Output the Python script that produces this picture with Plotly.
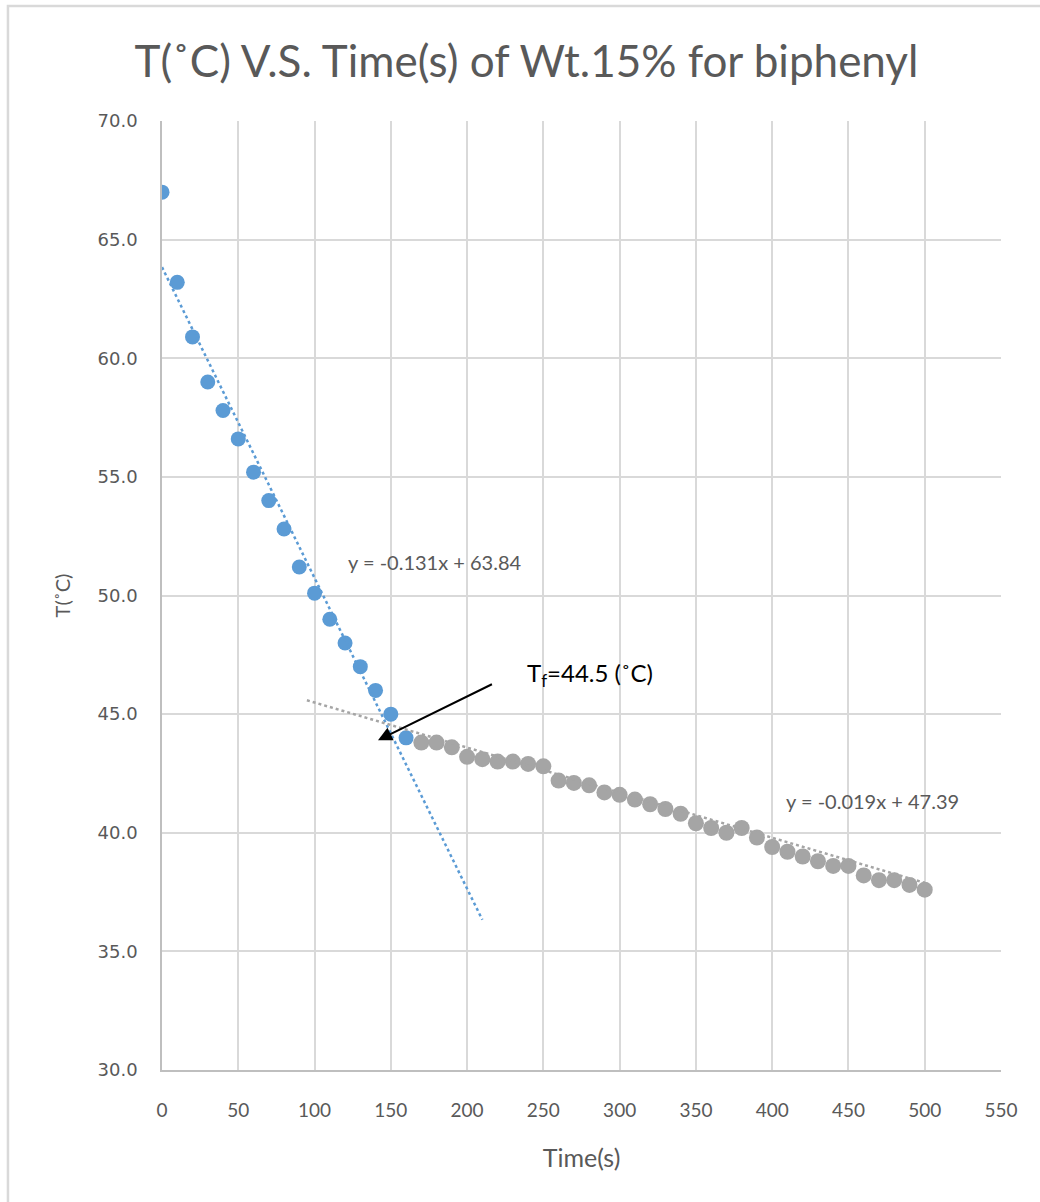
import numpy as np
import plotly.graph_objects as go

# ---- data ----
time_liquid = [0, 10, 20, 30, 40, 50, 60, 70, 80, 90, 100, 110, 120, 130, 140, 150, 160]
temp_liquid = [67.0, 63.2, 60.9, 59.0, 57.8, 56.6, 55.2, 54.0, 52.8, 51.2, 50.1, 49.0, 48.0, 47.0, 46.0, 45.0, 44.0]

time_solid = [170, 180, 190, 200, 210, 220, 230, 240, 250, 260, 270, 280, 290, 300, 310, 320,
              330, 340, 350, 360, 370, 380, 390, 400, 410, 420, 430, 440, 450, 460, 470, 480, 490, 500]
temp_solid = [43.8, 43.8, 43.6, 43.2, 43.1, 43.0, 43.0, 42.9, 42.8, 42.2, 42.1, 42.0, 41.7, 41.6, 41.4, 41.2,
              41.0, 40.8, 40.4, 40.2, 40.0, 40.2, 39.8, 39.4, 39.2, 39.0, 38.8, 38.6, 38.6, 38.2, 38.0, 38.0, 37.8, 37.6]

# trendline equations (as shown on chart)
fit1_slope, fit1_icpt = -0.131, 63.84
fit1_range = [0, 210]
fit2_slope, fit2_icpt = -0.019, 47.39
fit2_range = [95, 500]

x_ticks = list(range(0, 551, 50))
y_ticks = [30.0, 35.0, 40.0, 45.0, 50.0, 55.0, 60.0, 65.0, 70.0]

BLUE = "#5B9BD5"
GRAY = "#A5A5A5"
TXT = "#595959"
FONT = "Lato, 'Open Sans', sans-serif"

W, H = 1040, 1202

fig = go.Figure()

t1 = np.linspace(fit1_range[0], fit1_range[1], 50)
t2 = np.linspace(fit2_range[0], fit2_range[1], 50)

fig.add_trace(go.Scatter(x=time_liquid, y=temp_liquid, mode="markers",
                         marker=dict(color=BLUE, size=15, line=dict(width=0)), showlegend=False))
fig.add_trace(go.Scatter(x=time_solid, y=temp_solid, mode="markers",
                         marker=dict(color=GRAY, size=16, line=dict(width=0)), showlegend=False))
fig.add_trace(go.Scatter(x=t1, y=fit1_slope * t1 + fit1_icpt, mode="lines",
                         line=dict(color=BLUE, width=2.5, dash="dot"), showlegend=False, hoverinfo="skip"))
fig.add_trace(go.Scatter(x=t2, y=fit2_slope * t2 + fit2_icpt, mode="lines",
                         line=dict(color=GRAY, width=2.5, dash="dot"), showlegend=False, hoverinfo="skip"))

annotations = [
    dict(x=179, y=51.4, xref="x", yref="y", text=f"y = {fit1_slope}x + {fit1_icpt}",
         showarrow=False, font=dict(family=FONT, size=20, color=TXT)),
    dict(x=466, y=41.35, xref="x", yref="y", text=f"y = {fit2_slope}x + {fit2_icpt}",
         showarrow=False, font=dict(family=FONT, size=20, color=TXT)),
    dict(x=141.6, y=43.9, xref="x", yref="y", ax=217.6, ay=46.3, axref="x", ayref="y",
         text=" ", showarrow=True, arrowhead=2, arrowsize=1.4, arrowwidth=2, arrowcolor="black",
         font=dict(size=2)),
    dict(x=238, y=46.65, xref="x", yref="y", text="T<sub>f</sub>=44.5 (˚C)", xanchor="left",
         showarrow=False, font=dict(family=FONT, size=24, color="black")),
]

fig.update_layout(
    width=W, height=H,
    margin=dict(l=162, r=39, t=121, b=132),
    paper_bgcolor="white", plot_bgcolor="white",
    title=dict(text="T(˚C) V.S. Time(s) of Wt.15% for biphenyl", x=526.5 / W, xref="container",
               y=1 - 62 / H, yref="container", xanchor="center", yanchor="middle",
               font=dict(family=FONT, size=44, color=TXT)),
    annotations=annotations,
    shapes=[dict(type="rect", xref="paper", yref="paper", x0=-0.1836, x1=1.2, y0=-0.3, y1=1.1212,
                 line=dict(color="#D9D9D9", width=2.5), layer="below")],
    xaxis=dict(range=[0, 550], tickvals=x_ticks, showgrid=True, gridcolor="#D9D9D9", gridwidth=1.5,
               showline=True, linecolor="#BFBFBF", linewidth=1.5, zeroline=False, ticks="",
               ticklabelstandoff=22,
               tickfont=dict(family=FONT, size=19, color=TXT),
               title=dict(text="Time(s)", font=dict(family=FONT, size=25, color=TXT), standoff=30)),
    yaxis=dict(range=[30, 70], tickvals=y_ticks, tickformat=".1f", showgrid=True, gridcolor="#D9D9D9",
               gridwidth=1.5, showline=True, linecolor="#BFBFBF", linewidth=1.5, zeroline=False, ticks="",
               ticklabelstandoff=19,
               tickfont=dict(family="DejaVu Sans", size=18, color=TXT),
               title=dict(text="T(˚C)", font=dict(family=FONT, size=20, color=TXT), standoff=22)),
)

fig.write_html("out.html", config={"displayModeBar": False},
               post_script="document.body.style.margin='0';")
